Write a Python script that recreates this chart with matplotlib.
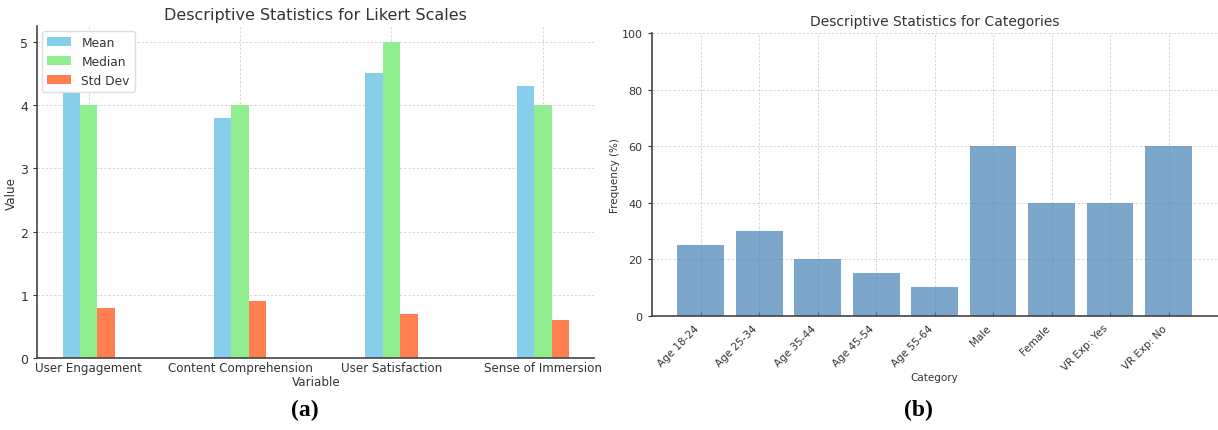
import matplotlib
matplotlib.use("Agg")
import matplotlib.pyplot as plt
import numpy as np

# Likert scale summary
variables = ["User Engagement", "Content Comprehension", "User Satisfaction", "Sense of Immersion"]
mean_vals = [4.2, 3.8, 4.5, 4.3]
median_vals = [4.0, 4.0, 5.0, 4.0]
std_vals = [0.8, 0.9, 0.7, 0.6]

# Category frequencies
categories = ["Age 18-24", "Age 25-34", "Age 35-44", "Age 45-54", "Age 55-64",
              "Male", "Female", "VR Exp: Yes", "VR Exp: No"]
frequencies = [25, 30, 20, 15, 10, 60, 40, 40, 60]

TEXT = "#333333"
SPINE = "#444444"

plt.rcParams["font.family"] = "DejaVu Sans"
plt.rcParams["text.color"] = TEXT
plt.rcParams["axes.labelcolor"] = TEXT
plt.rcParams["xtick.color"] = TEXT
plt.rcParams["ytick.color"] = TEXT

fig = plt.figure(figsize=(12.18, 4.31), dpi=100)


def style_axes(ax):
    for side in ("top", "right"):
        ax.spines[side].set_visible(False)
    for side in ("left", "bottom"):
        ax.spines[side].set_color(SPINE)
        ax.spines[side].set_linewidth(1.2)
    ax.grid(True, linestyle=(0, (3, 2)), color="#cccccc", linewidth=0.6, alpha=0.9)
    ax.set_axisbelow(True)


# (a) grouped bars
ax1 = fig.add_axes([0.0306, 0.1664, 0.4573, 0.771])
style_axes(ax1)
x = np.arange(len(variables))
w = 0.115
ax1.bar(x - w, mean_vals, w, color="skyblue", label="Mean")
ax1.bar(x, median_vals, w, color="lightgreen", label="Median")
ax1.bar(x + w, std_vals, w, color="coral", label="Std Dev")
ax1.set_xticks(x)
ax1.set_xticklabels(variables, fontsize=8.6)
ax1.tick_params(axis="x", direction="in", length=3, pad=2)
ax1.tick_params(axis="y", labelsize=9, length=3)
ax1.set_xlabel("Variable", fontsize=8.6, labelpad=1)
ax1.set_ylabel("Value", fontsize=8.6, labelpad=2)
ax1.set_title("Descriptive Statistics for Likert Scales", fontsize=11.5, pad=5)
ax1.legend(loc="upper left", fontsize=8.8, borderaxespad=0.4, framealpha=1,
           edgecolor="#dddddd")

# (b) single-series bars
ax2 = fig.add_axes([0.535, 0.2652, 0.4647, 0.656])
style_axes(ax2)
pos = np.arange(len(categories))
ax2.bar(pos, frequencies, 0.8, color="steelblue", alpha=0.7)
ax2.set_ylim(0, 100)
ax2.set_xticks(pos)
ax2.set_xticklabels(categories, rotation=45, ha="right", fontsize=7.5)
ax2.tick_params(axis="x", direction="in", length=3, pad=5)
ax2.tick_params(axis="y", labelsize=8, length=3)
ax2.set_xlabel("Category", fontsize=7.5, labelpad=0)
ax2.set_ylabel("Frequency (%)", fontsize=7.5, labelpad=1)
ax2.set_title("Descriptive Statistics for Categories", fontsize=10, pad=6)

# panel captions
fig.text(0.2505, 0.048, "(a)", fontsize=17, fontweight="bold",
         family="Liberation Serif", ha="center", va="center", color="black")
fig.text(0.754, 0.048, "(b)", fontsize=17, fontweight="bold",
         family="Liberation Serif", ha="center", va="center", color="black")

fig.savefig("out.png", dpi=100)
